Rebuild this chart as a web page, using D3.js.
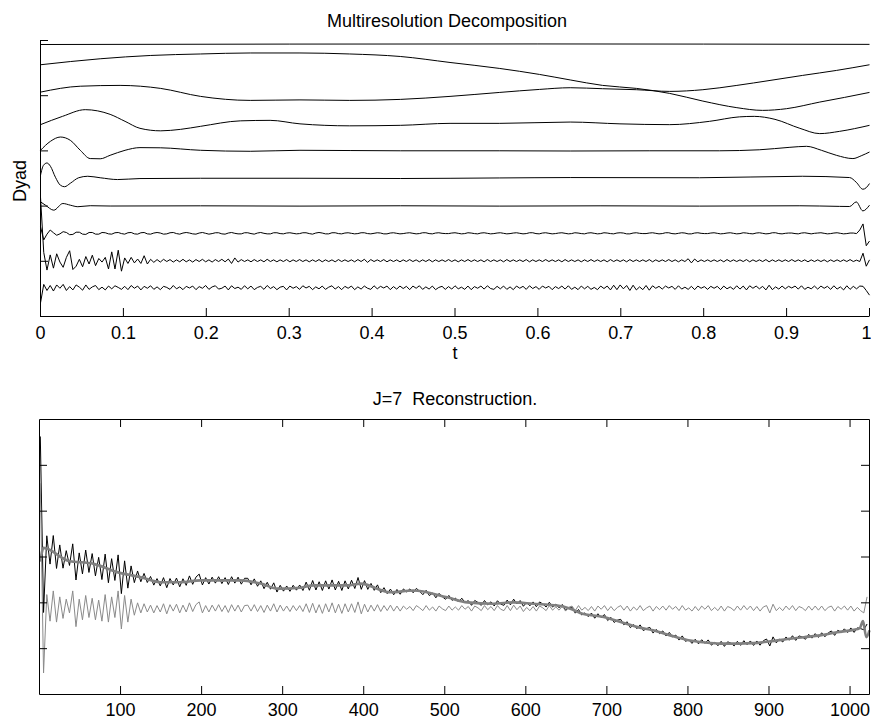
<!DOCTYPE html>
<html><head><meta charset="utf-8">
<script src="https://cdn.jsdelivr.net/npm/d3@7"></script>
<style>body{margin:0;background:#fff}</style>
</head><body><svg id="c" width="871" height="720"></svg>
<script>
// ---------------- data ----------------
const tTicks = [0,.1,.2,.3,.4,.5,.6,.7,.8,.9,1];
const tTickLabels = ["0","0.1","0.2","0.3","0.4","0.5","0.6","0.7","0.8","0.9","1"];
const dyadTicks = [0,2,4,6,8,10];
const nTicks = [100,200,300,400,500,600,700,800,900,1000];
const nTickLabels = ["100","200","300","400","500","600","700","800","900","1000"];
const ampTicks = [-2,-1,0,1,2];

// smooth levels of the multiresolution decomposition: [t, level value]
const dyad1 = [[0,9.855],[.3,9.87],[.6,9.875],[1,9.86]];
const dyad2 = [[0,9.121],[.072,9.338],[.133,9.458],[.193,9.512],[.253,9.548],[.313,9.548],[.373,9.512],[.434,9.421],[.494,9.204],[.554,8.987],[.602,8.77],[.639,8.571],[.678,8.373],[.719,8.264],[.759,8.083],[.799,7.805],[.84,7.566],[.871,7.468],[.9,7.53],[.94,7.769],[.97,7.939],[1,8.119]];
const dyad3 = [[0,8.13],[.048,8.344],[.096,8.373],[.145,8.264],[.193,7.975],[.253,7.83],[.313,7.848],[.373,7.83],[.434,7.866],[.494,7.975],[.554,8.119],[.602,8.228],[.639,8.289],[.678,8.253],[.719,8.217],[.759,8.156],[.799,8.217],[.84,8.373],[.88,8.553],[.919,8.734],[.96,8.915],[1,9.121]];
const dyad4 = [[0,6.951],[.0265,7.251],[.054,7.494],[.084,7.324],[.102,7.071],[.12,6.818],[.145,6.727],[.169,6.781],[.193,6.89],[.241,7.089],[.277,7.107],[.313,6.98],[.373,6.908],[.434,6.926],[.494,6.998],[.554,6.998],[.639,7.045],[.699,6.98],[.759,6.951],[.807,7.071],[.843,7.233],[.861,7.251],[.886,7.143],[.916,6.818],[.94,6.626],[.964,6.709],[1,6.926]];
const dyad5 = [[0,6.022],[.012,6.347],[.024,6.503],[.036,6.383],[.048,6.022],[.06,5.722],[.072,5.714],[.084,5.841],[.102,6.022],[.12,6.119],[.145,6.112],[.193,6.022],[.253,5.986],[.313,6.022],[.434,6.004],[.554,6.004],[.639,5.996],[.735,6.004],[.819,6.004],[.867,6.04],[.904,6.13],[.924,6.166],[.942,6.022],[.96,5.841],[.98,5.722],[.99,5.823],[1,5.96]];
const dyad6 = [[0,5.118],[.0036,5.479],[.0078,5.562],[.012,5.443],[.018,5.045],[.024,4.756],[.029,4.702],[.036,4.828],[.046,5.027],[.057,5.081],[.072,5.027],[.093,4.962],[.12,4.998],[.193,5.009],[.313,5.009],[.434,5.0],[.554,5.02],[.639,5.034],[.795,5.027],[.919,5.081],[.976,5.034],[.984,4.864],[.992,4.611],[.996,4.665],[1,4.817]];
const dyad7 = [[0,4.152],[.006,4.033],[.016,3.852],[.027,4.094],[.036,4.033],[.045,3.978],[.06,4.014],[.084,4.003],[.193,4.01],[.313,4.0],[.434,4.012],[.554,4.0],[.675,4.01],[.795,4.0],[.916,4.012],[.964,3.99],[.976,3.985],[.984,4.152],[.992,3.826],[1,4.033]];

// fine detail levels: baseline offsets and deviations on a uniform grid of 257 points over t in [0,1]
const detailOffsets = [3.014, 2.022, 1.043];
const detail8 = [.24,-.24,-.03,.12,.02,-.07,-.02,.06,.03,-.05,-.04,.04,.04,-.03,-.04,.03,
.03,-.03,-.03,.03,.02,-.02,-.03,.02,.03,-.01,-.03,.02,.03,-.02,-.03,.02,
.03,-.02,-.03,.01,.03,.01,-.03,-.02,.02,.03,-.01,-.03,.01,.03,.01,-.02,
-.03,.01,.03,0,-.03,-.01,.02,.02,-.02,-.03,.01,.03,0,-.02,-.02,.02,
.02,-.01,-.03,.01,.03,0,-.02,-.02,.02,.02,-.01,-.02,.01,.02,0,-.02,
-.01,.02,.02,-.01,-.03,.01,.03,.01,-.02,-.02,.02,.02,-.01,-.02,.01,.02,
0,-.02,-.01,.02,.02,-.01,-.02,0,.02,.01,-.02,-.02,.01,.02,0,-.02,
-.01,.01,.02,0,-.02,-.01,.02,.02,-.01,-.02,.01,.02,0,-.01,-.01,.01,
.02,0,-.02,-.01,.02,.01,-.01,-.02,.01,.02,0,-.02,-.01,.01,.02,0,
-.02,-.01,.01,.02,0,-.02,-.01,.02,.02,-.01,-.02,.01,.02,0,-.02,-.01,
.01,.02,0,-.02,-.01,.02,.01,-.01,-.02,.01,.02,0,-.02,-.01,.02,.01,
-.01,-.02,.01,.02,.01,-.02,-.02,.01,.02,0,-.01,-.01,.01,.02,0,-.02,
-.01,.02,.02,-.01,-.02,0,.02,.01,-.02,-.02,.01,.02,0,-.01,-.01,.01,
.02,0,-.02,-.01,.01,.02,0,-.02,-.01,.02,.01,-.01,-.02,.01,.02,0,
-.02,-.01,.02,.02,-.01,-.02,0,.01,.01,-.01,-.02,.01,.02,0,-.02,0,
.01,.02,0,-.02,-.01,.01,.02,0,-.02,-.01,.01,.01,-.01,.12,.34,-.45,
-.28];
const detail9 = [2.3,.3,-.34,.21,-.27,.25,-.05,-.24,.12,.36,-.32,-.2,.05,-.22,.15,-.12,
.2,-.18,.08,-.05,.12,-.3,.32,-.3,.38,-.38,.1,-.1,.12,-.08,.06,-.1,
.18,-.12,.05,-.06,.04,-.05,.05,-.03,.04,-.05,.03,-.04,.05,-.04,.03,-.05,
.04,-.03,.05,-.04,.03,-.05,.04,-.03,.05,-.04,.06,-.1,.1,-.05,.04,-.03,
.03,-.04,.04,-.03,.03,-.04,.05,-.03,.03,-.04,.03,-.03,.04,-.04,.03,-.03,
.04,-.03,.03,-.04,.03,-.03,.04,-.04,.03,-.03,.03,-.04,.04,-.03,.03,-.03,
.03,-.04,.04,-.03,.05,-.06,.04,-.03,.03,-.03,.04,-.04,.03,-.03,.03,-.04,
.03,-.03,.04,-.03,.03,-.04,.03,-.03,.04,-.04,.03,-.03,.03,-.03,.04,-.03,
.03,-.04,.03,-.03,.04,-.03,.03,-.03,.03,-.04,.04,-.03,.03,-.03,.03,-.04,
.04,-.03,.03,-.03,.03,-.03,.04,-.04,.03,-.03,.03,-.03,.04,-.03,.03,-.03,
.03,-.04,.04,-.03,.03,-.03,.03,-.04,.03,-.03,.04,-.03,.03,-.03,.03,-.04,
.04,-.03,.03,-.03,.03,-.04,.04,-.03,.03,-.03,.03,-.03,.04,-.04,.03,-.03,
.03,-.03,.04,-.03,.03,-.04,.03,-.03,.07,-.08,.06,-.04,.03,-.03,.03,-.03,
.03,-.03,.03,-.04,.04,-.03,.03,-.03,.03,-.03,.04,-.04,.03,-.03,.03,-.03,
.04,-.04,.03,-.03,.03,-.03,.03,-.03,.04,-.03,.03,-.03,.03,-.04,.03,-.03,
.03,-.03,.03,-.04,.03,-.03,.03,-.03,.03,-.03,.04,-.03,.02,-.03,.27,-.2,
.03];
const detail10 = [-.55,.12,-.1,.08,-.12,.1,-.02,.12,-.1,.04,-.08,.1,.02,-.09,.1,-.06,
.03,.08,-.07,.02,-.08,.06,-.04,.07,.01,-.06,.05,-.07,.08,-.02,.06,-.08,
.05,-.02,.07,-.06,.03,-.07,.05,.01,-.06,.08,-.04,.03,-.07,.05,-.01,.06,
-.07,.04,-.02,.08,-.06,.03,.07,-.05,-.02,.06,-.08,.07,-.03,.02,-.06,.07,
-.04,.06,-.07,.01,.05,-.06,.08,-.03,.04,-.07,.02,.05,-.08,.06,-.02,.04,
-.06,.07,-.01,.05,-.07,.03,-.04,.06,-.06,.02,.07,-.05,.04,-.07,.05,-.02,
.06,-.07,.03,-.05,.06,-.02,-.06,.07,-.04,.05,-.01,.06,-.07,.04,-.05,.06,
-.03,.05,-.07,.06,-.02,.07,-.06,.03,-.05,.06,-.07,.01,.05,-.06,.04,-.05,
.07,-.04,.02,-.06,.06,-.07,.04,-.02,.06,-.05,.07,-.03,-.06,.05,-.04,.06,
-.06,.03,-.07,.06,-.02,.05,-.06,.07,-.03,.04,-.06,.06,-.01,.05,-.07,.04,
-.03,.06,-.05,.07,-.06,.02,-.07,.06,-.04,.05,-.06,.01,-.07,.06,-.03,.06,
-.08,.09,-.07,.1,-.04,.08,-.1,.09,-.08,.03,-.07,.08,-.09,.07,-.02,.05,
-.05,.06,-.01,.05,-.06,.07,-.05,.02,-.06,.05,-.07,.06,-.02,.04,-.06,.05,
-.02,.05,-.07,.06,-.04,.03,-.06,.07,-.05,.06,-.08,.07,-.02,.06,-.04,.05,
-.08,.09,-.07,.03,-.05,.06,-.04,.05,-.01,.06,-.05,.07,-.06,.02,-.04,.06,
-.05,.06,-.02,.05,-.06,.07,-.05,.03,-.08,.07,-.06,.05,-.04,.06,.05,-.1,
-.27];

// J=7 reconstruction (smooth) at sample indices
const reconN = [1,5,35,67,96,125,149,174,199,223,248,273,294,322,338,380,396,433,461,503,528,560,585,609,639,655,667,696,717,738,757,778,799,819,840,861,881,902,923,943,963,984,1004,1012,1016,1020,1024];
const reconV = [-.1,.2,-.08,-.15,-.33,-.44,-.55,-.55,-.51,-.51,-.51,-.58,-.69,-.67,-.62,-.62,-.58,-.77,-.73,-.88,-.99,-1.02,-.99,-1.02,-1.06,-1.13,-1.22,-1.31,-1.42,-1.53,-1.6,-1.71,-1.81,-1.86,-1.89,-1.89,-1.88,-1.84,-1.79,-1.75,-1.71,-1.64,-1.59,-1.55,-1.4,-1.75,-1.6];
// residual (signal minus reconstruction) at samples 1,5,9,...,1021
const residual = [2.73,-1.41,.3,-.28,.38,-.3,.25,-.22,.2,-.1,.38,-.4,.2,-.25,.28,-.2,
.22,-.25,.18,-.28,.3,-.3,.25,-.2,.38,-.45,.28,-.3,.2,-.15,.12,-.1,
.1,-.08,.07,-.1,.06,-.08,.1,-.12,.08,-.06,.09,-.1,.07,-.08,.12,-.07,
.08,.14,-.1,.06,-.08,.07,-.06,.08,-.07,.06,-.09,.08,-.06,.07,-.08,.06,
.07,-.06,.08,-.07,.06,-.09,.07,-.06,.1,-.08,.07,-.06,.05,-.07,.06,-.05,
.06,-.07,.1,-.09,.11,-.1,.08,-.11,.1,-.08,.12,-.1,.09,-.11,.1,-.08,
.1,-.09,.14,-.12,.09,-.08,.07,-.06,.08,-.07,.06,-.05,.07,-.06,.05,-.06,
.05,-.02,.04,-.05,.06,.01,-.05,.06,-.04,.03,-.06,.05,-.01,-.05,.05,-.04,
.03,-.04,.06,-.02,.04,-.06,.05,.01,-.05,.06,-.03,.04,-.05,.06,-.02,-.05,
.06,-.05,.07,-.03,.05,-.07,.02,-.05,.04,-.06,.05,.01,-.05,.06,-.04,.03,
-.04,.05,-.06,.02,.05,-.05,.06,-.04,.02,-.05,.04,-.06,.05,-.02,.06,-.05,
.04,-.05,.02,.06,-.04,.05,-.06,.03,-.04,.06,-.05,.01,.05,-.06,.04,-.03,
.05,-.04,.06,-.02,.04,-.05,.06,-.04,.01,-.06,.04,-.05,.05,-.02,.06,-.05,
.02,-.05,.05,-.06,.04,.01,-.05,.05,-.04,.06,-.03,.05,-.05,.04,-.06,.03,
.06,-.1,.09,-.05,.02,-.05,.05,-.03,.06,-.05,.04,.01,-.05,.05,-.04,.05,
-.04,.05,-.05,.02,.05,-.06,.04,-.02,.05,-.04,.05,-.06,.02,-.05,-.1,.25];
const residualOffset = -1.12;

// ---------------- drawing ----------------
const FONT = '"Liberation Sans", Arial, Helvetica, sans-serif';
const svg = d3.select("#c");

function styleAxis(g, showText, labelY){
  g.attr("font-family", FONT).attr("font-size", 18);
  g.select(".domain").attr("stroke", "#000").attr("stroke-width", 1);
  g.selectAll(".tick line").attr("stroke", "#000").attr("stroke-width", 1);
  if (showText) g.selectAll(".tick text").attr("y", labelY).attr("dy", null).attr("fill", "#000");
  else g.selectAll(".tick text").remove();
}

// ---- top panel ----
const xT = d3.scaleLinear().domain([0,1]).range([40,869]);
const yT = d3.scaleLinear().domain([0,10]).range([316,40]);
const topData = svg.append("g").attr("transform","translate(0.5,0.5)");
const smoothLine = d3.line().x(d => xT(d[0])).y(d => yT(d[1])).curve(d3.curveMonotoneX);
const rawLine = d3.line().x(d => xT(d[0])).y(d => yT(d[1]));
[dyad1, dyad2, dyad3, dyad4, dyad5, dyad6, dyad7].forEach(c => {
  topData.append("path").attr("d", smoothLine(c)).attr("fill","none").attr("stroke","#000").attr("stroke-width",1);
});
[detail8, detail9, detail10].forEach((arr, k) => {
  const pts = arr.map((v, i) => [i / (arr.length - 1), detailOffsets[k] + v]);
  topData.append("path").attr("d", rawLine(pts)).attr("fill","none").attr("stroke","#000").attr("stroke-width",1).attr("stroke-linejoin","round");
});

const gxT = svg.append("g").attr("transform","translate(0,316)")
  .call(d3.axisBottom(xT).tickValues(tTicks).tickFormat((d,i) => tTickLabels[i]).tickSizeInner(-8).tickSizeOuter(0));
styleAxis(gxT, true, 23);
// keep the last label inside the picture, as in the reference
gxT.selectAll(".tick text").filter(d => d === 1).attr("text-anchor","end").attr("x", 2);
const gyT = svg.append("g").attr("transform","translate(40,0)")
  .call(d3.axisLeft(yT).tickValues(dyadTicks).tickSizeInner(-8).tickSizeOuter(0));
styleAxis(gyT, false);

svg.append("text").attr("x", 447).attr("y", 27).attr("text-anchor","middle")
  .attr("font-family", FONT).attr("font-size", 18).text("Multiresolution Decomposition");
svg.append("text").attr("x", 455).attr("y", 359).attr("text-anchor","middle")
  .attr("font-family", FONT).attr("font-size", 18).text("t");
svg.append("text").attr("transform","translate(26,181) rotate(-90)").attr("text-anchor","middle")
  .attr("font-family", FONT).attr("font-size", 18).text("Dyad");

// ---- bottom panel ----
const xB = d3.scaleLinear().domain([0,1024]).range([39,869]);
const yB = d3.scaleLinear().domain([-3,3]).range([694,419]);
const reconAt = d3.scaleLinear().domain(reconN).range(reconV);
const resN = residual.map((v, i) => 4 * i + 1);
const signal = residual.map((v, i) => [resN[i], reconAt(resN[i]) + v]);
const resid = residual.map((v, i) => [resN[i], residualOffset + v]);
const recon = reconN.map((n, i) => [n, reconV[i]]);

const botData = svg.append("g").attr("transform","translate(0.5,0.5)");
const lineB = d3.line().x(d => xB(d[0])).y(d => yB(d[1]));
const lineBs = d3.line().x(d => xB(d[0])).y(d => yB(d[1])).curve(d3.curveMonotoneX);
botData.append("path").attr("d", lineB(signal)).attr("fill","none").attr("stroke","#000").attr("stroke-width",1).attr("stroke-linejoin","round");
botData.append("path").attr("d", lineBs(recon)).attr("fill","none").attr("stroke","#808080").attr("stroke-width",2.6).attr("stroke-linejoin","round");
botData.append("path").attr("d", lineB(resid)).attr("fill","none").attr("stroke","#8a8a8a").attr("stroke-width",1).attr("stroke-linejoin","round");

const gxB = svg.append("g").attr("transform","translate(0,694)")
  .call(d3.axisBottom(xB).tickValues(nTicks).tickFormat((d,i) => nTickLabels[i]).tickSizeInner(-8).tickSizeOuter(0));
styleAxis(gxB, true, 22);
const gxB2 = svg.append("g").attr("transform","translate(0,419)")
  .call(d3.axisTop(xB).tickValues(nTicks).tickSizeInner(-8).tickSizeOuter(0));
styleAxis(gxB2, false);
const gyB = svg.append("g").attr("transform","translate(39,0)")
  .call(d3.axisLeft(yB).tickValues(ampTicks).tickSizeInner(-8).tickSizeOuter(0));
styleAxis(gyB, false);
const gyB2 = svg.append("g").attr("transform","translate(869,0)")
  .call(d3.axisRight(yB).tickValues(ampTicks).tickSizeInner(-8).tickSizeOuter(0));
styleAxis(gyB2, false);

svg.append("text").attr("x", 455).attr("y", 405).attr("text-anchor","middle").attr("xml:space","preserve")
  .style("white-space","pre")
  .attr("font-family", FONT).attr("font-size", 18).text("J=7  Reconstruction.");
</script>
</body></html>
